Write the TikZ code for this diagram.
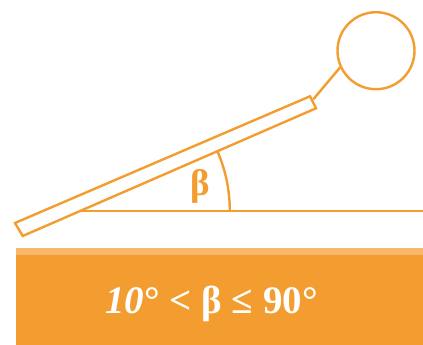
\documentclass[tikz,border=0pt]{standalone}
\usepackage{fontspec}
\setmainfont{Liberation Serif}
\definecolor{org}{HTML}{F39C2F}
\definecolor{orglight}{HTML}{F7B86B}
\begin{document}
\begin{tikzpicture}[x=1pt,y=-1pt,
  line/.style={draw=org,line width=2.4pt,line join=miter},
]
\useasboundingbox (0,0) rectangle (423,345);
% ground bar
\fill[orglight] (16,248) rectangle (423,255.5);
\fill[org] (16,255) rectangle (423,344.5);
\node[anchor=base,text=white,font=\fontsize{39}{44}\selectfont\bfseries,inner sep=0pt] (txt) at (211.5,313) {\textit{10}° < β ≤ 90°};
% plank
\coordinate (p1) at (15,223);
\coordinate (p2) at (22.7,236);
\coordinate (p3) at (316,108.3);
\coordinate (p4) at (310,96.3);
\draw[line] (p1) -- (p2) -- (p3) -- (p4) -- cycle;
% horizontal line
\coordinate (o) at (80.8,210.7);
\coordinate (r) at (423,210.7);
\draw[line] (o) -- (r);
% angle arc
\draw[line] (o) ++(149,0) arc[start angle=0,end angle=-23.5,radius=149];
\node[text=org,font=\fontsize{37}{40}\selectfont\bfseries] (beta) at (200,186) {β};
% circle and stick
\node[draw=org,line width=2.4pt,circle,minimum size=77pt,inner sep=0pt] (c) at (376,50.7) {};
\coordinate (s) at (313.3,99.3);
\draw[line] (s) -- (c.205);
\end{tikzpicture}
\end{document}
